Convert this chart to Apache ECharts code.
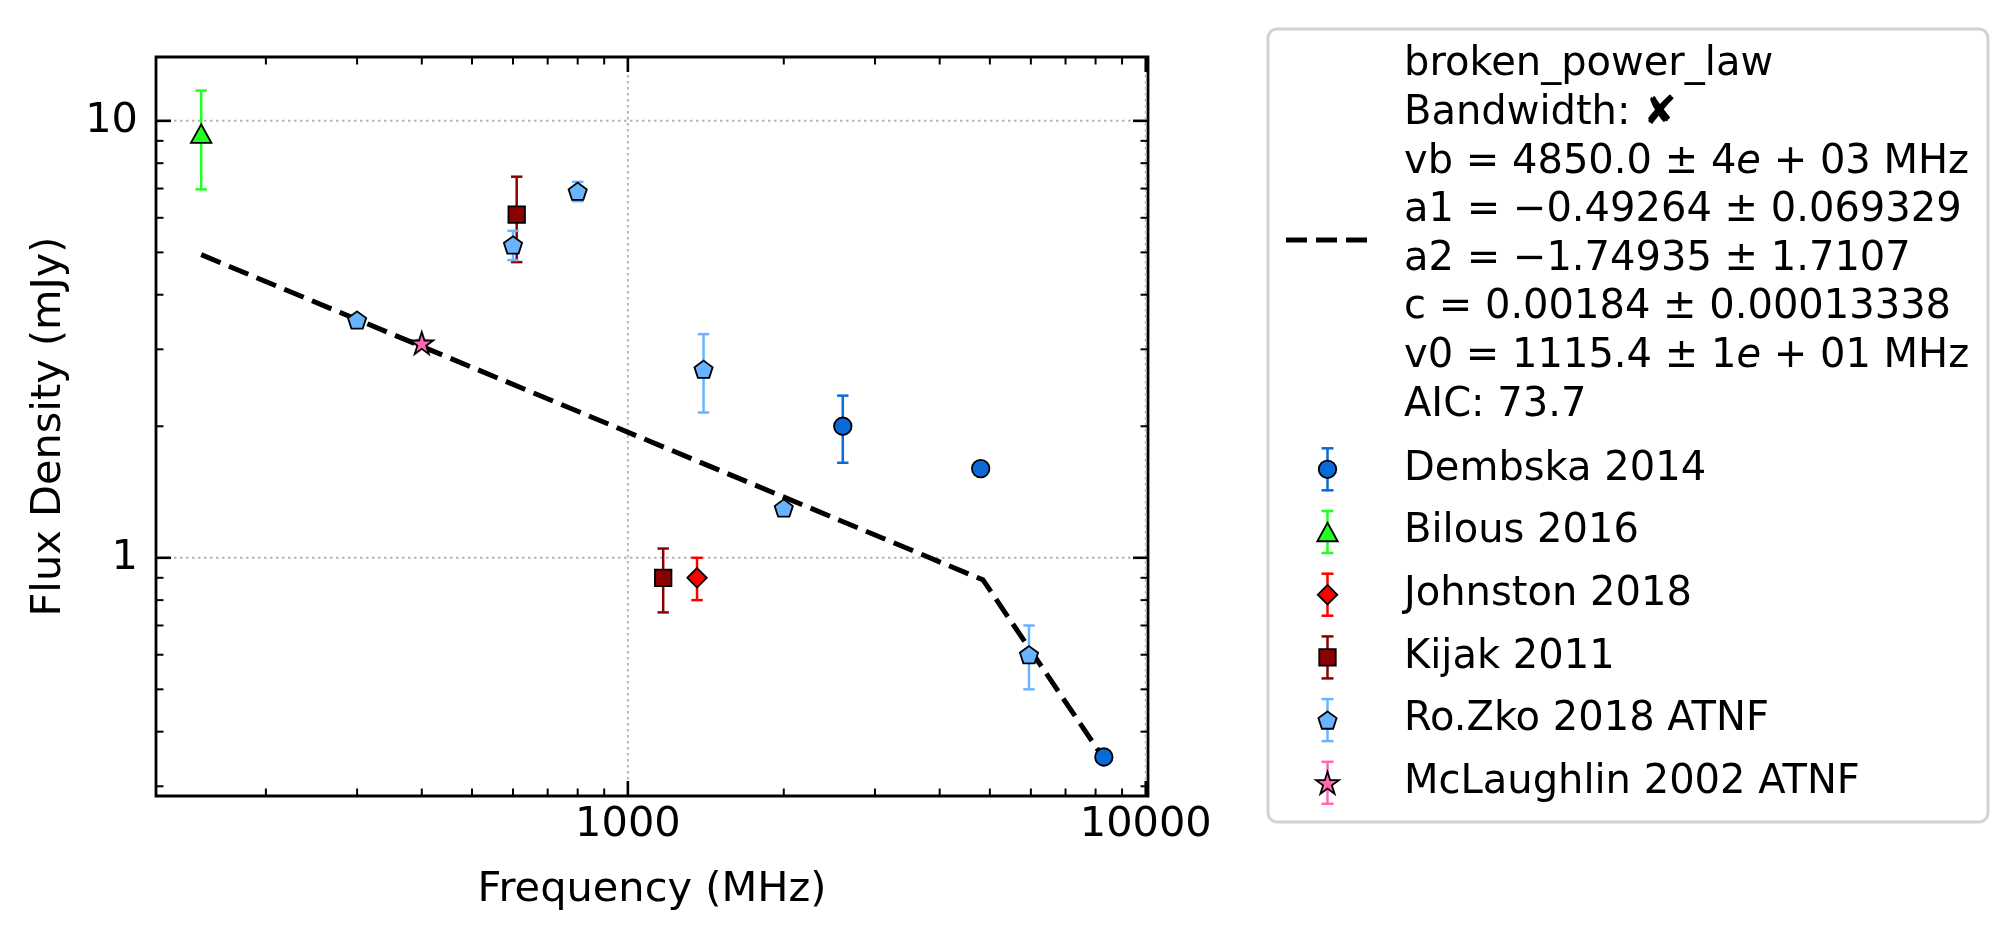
<!DOCTYPE html>
<html>
<head>
<meta charset="utf-8">
<title>Flux density spectrum</title>
<script src="https://cdn.jsdelivr.net/npm/echarts@6/dist/echarts.min.js"></script>
<style>
  html, body { margin: 0; padding: 0; background: #fff; }
  #chart { width: 2016px; height: 941px; }
</style>
</head>
<body>
<div id="chart"></div>
<script>
var dembskaFreq = [2600, 4800, 8300];
var dembskaFlux = [2.0, 1.6, 0.35];
var dembskaErr  = [0.35, 0.04, 0.01];

var bilousFreq = [150];
var bilousFlux = [9.35];
var bilousErr  = [2.38];

var johnstonFreq = [1360];
var johnstonFlux = [0.9];
var johnstonErr  = [0.1];

var kijakFreq = [610, 1170];
var kijakFlux = [6.1, 0.9];
var kijakErr  = [1.35, 0.15];

var rozkoFreq = [300, 600, 800, 1400, 2000, 5950];
var rozkoFlux = [3.5, 5.2, 6.9, 2.7, 1.3, 0.6];
var rozkoErr  = [0.05, 0.4, 0.35, 0.55, 0.03, 0.1];

var mclFreq = [400];
var mclFlux = [3.1];
var mclErr  = [0.05];

// dashed fit curve (start, break, end)
var fitFreq = [150, 4850, 8300];
var fitFlux = [4.94, 0.89, 0.347];

// axis ticks (log axes)
var xMajorTicks = [1000, 10000];
var xMinorTicks = [200, 300, 400, 500, 600, 700, 800, 900, 2000, 3000, 4000, 5000, 6000, 7000, 8000, 9000];
var yMajorTicks = [1, 10];
var yMinorTicks = [0.3, 0.4, 0.5, 0.6, 0.7, 0.8, 0.9, 2, 3, 4, 5, 6, 7, 8, 9];

// legend text of the fit
var fitLabel = [
  'broken_power_law',
  'Bandwidth: \u2718',
  'vb = 4850.0 \u00b1 4{i|e} + 03 MHz',
  'a1 = \u22120.49264 \u00b1 0.069329',
  'a2 = \u22121.74935 \u00b1 1.7107',
  'c = 0.00184 \u00b1 0.00013338',
  'v0 = 1115.4 \u00b1 1{i|e} + 01 MHz',
  'AIC: 73.7'
];

var FONT = 'DejaVu Sans';
var FS = 40;      // legend text
var AXFS = 41.5;  // tick labels and axis titles

// marker outlines (unit polygons); circle uses the built-in symbol
var shapePoints = {
  triangle: [[0, -1], [1, 1], [-1, 1]],
  diamond: [[0, -1], [1, 0], [0, 1], [-1, 0]],
  square: [[-1, -1], [1, -1], [1, 1], [-1, 1]],
  pentagon: [[0, -1], [0.951, -0.309], [0.588, 0.809], [-0.588, 0.809], [-0.951, -0.309]],
  star: [[0, -1], [0.2245, -0.309], [0.951, -0.309], [0.3633, 0.118], [0.588, 0.809], [0, 0.382],
         [-0.588, 0.809], [-0.3633, 0.118], [-0.951, -0.309], [-0.2245, -0.309]]
};

function symbolOf(shape) {
  if (shape === 'circle') return 'circle';
  var p = shapePoints[shape];
  return 'path://' + p.map(function (q, i) { return (i ? 'L' : 'M') + q[0] + ',' + q[1]; }).join(' ') + ' Z';
}

// fit a unit polygon into a w x h box centred at cx, cy (for the legend)
function fitPoints(shape, cx, cy, w, h) {
  var p = shapePoints[shape];
  var xs = p.map(function (q) { return q[0]; }), ys = p.map(function (q) { return q[1]; });
  var x0 = Math.min.apply(null, xs), x1 = Math.max.apply(null, xs);
  var y0 = Math.min.apply(null, ys), y1 = Math.max.apply(null, ys);
  return p.map(function (q) {
    return [cx + ((q[0] - x0) / (x1 - x0) - 0.5) * w, cy + ((q[1] - y0) / (y1 - y0) - 0.5) * h];
  });
}

var sources = [
  { name: 'Dembska 2014', freq: dembskaFreq, flux: dembskaFlux, err: dembskaErr, color: '#0a6ad8', shape: 'circle', size: [17.5, 17.5] },
  { name: 'Bilous 2016', freq: bilousFreq, flux: bilousFlux, err: bilousErr, color: '#22ff22', shape: 'triangle', size: [20.5, 18.5] },
  { name: 'Johnston 2018', freq: johnstonFreq, flux: johnstonFlux, err: johnstonErr, color: '#ff0000', shape: 'diamond', size: [19.5, 19.5] },
  { name: 'Kijak 2011', freq: kijakFreq, flux: kijakFlux, err: kijakErr, color: '#8b0000', shape: 'square', size: [16.5, 16.5] },
  { name: 'Ro.Zko 2018 ATNF', freq: rozkoFreq, flux: rozkoFlux, err: rozkoErr, color: '#6ab4ff', shape: 'pentagon', size: [18.2, 17.3] },
  { name: 'McLaughlin 2002 ATNF', freq: mclFreq, flux: mclFlux, err: mclErr, color: '#ff69b4', shape: 'star', size: [23, 22] }
];

var gridStyle = { stroke: '#b4b4b4', lineWidth: 2, lineDash: [2.5, 3.5] };

function textStyle(txt, x, y, align, valign, size) {
  return {
    text: txt, x: x, y: y, fill: '#000', fontSize: size || FS, fontFamily: FONT,
    align: align, verticalAlign: valign
  };
}

// inward ticks on bottom + top, grid line and label for majors
function renderXTick(params, api) {
  var cs = params.coordSys;
  var v = api.value(0);
  var major = api.value(2) === 1;
  var x = api.coord([v, 1])[0];
  var top = cs.y, bottom = cs.y + cs.height;
  var len = major ? 15 : 7.5;
  var ts = { stroke: '#000', lineWidth: major ? 2.6 : 2 };
  var kids = [];
  if (major) {
    kids.push({ type: 'line', shape: { x1: x, y1: top, x2: x, y2: bottom }, style: gridStyle });
    kids.push({ type: 'text', style: textStyle(String(v), x, bottom + 8, 'center', 'top', AXFS) });
  }
  kids.push({ type: 'line', shape: { x1: x, y1: bottom, x2: x, y2: bottom - len }, style: ts });
  kids.push({ type: 'line', shape: { x1: x, y1: top, x2: x, y2: top + len }, style: ts });
  return { type: 'group', children: kids };
}

function renderYTick(params, api) {
  var cs = params.coordSys;
  var v = api.value(1);
  var major = api.value(2) === 1;
  var y = api.coord([1000, v])[1];
  var left = cs.x, right = cs.x + cs.width;
  var len = major ? 15 : 7.5;
  var ts = { stroke: '#000', lineWidth: major ? 2.6 : 2 };
  var kids = [];
  if (major) {
    kids.push({ type: 'line', shape: { x1: left, y1: y, x2: right, y2: y }, style: gridStyle });
    kids.push({ type: 'text', style: textStyle(String(v), left - 18, y, 'right', 'middle', AXFS) });
  }
  kids.push({ type: 'line', shape: { x1: left, y1: y, x2: left + len, y2: y }, style: ts });
  kids.push({ type: 'line', shape: { x1: right, y1: y, x2: right - len, y2: y }, style: ts });
  return { type: 'group', children: kids };
}

function renderErrorBar(params, api) {
  var x = api.value(0), y = api.value(1), e = api.value(2);
  var hi = api.coord([x, y + e]);
  var lo = api.coord([x, y - e]);
  var cap = 5.7;
  var st = { stroke: api.visual('color'), lineWidth: 2.5 };
  return {
    type: 'group',
    children: [
      { type: 'line', shape: { x1: hi[0], y1: hi[1], x2: lo[0], y2: lo[1] }, style: st },
      { type: 'line', shape: { x1: hi[0] - cap, y1: hi[1], x2: hi[0] + cap, y2: hi[1] }, style: st },
      { type: 'line', shape: { x1: lo[0] - cap, y1: lo[1], x2: lo[0] + cap, y2: lo[1] }, style: st }
    ]
  };
}

var xTickData = xMajorTicks.map(function (v) { return [v, 1, 1]; })
  .concat(xMinorTicks.map(function (v) { return [v, 1, 0]; }));
var yTickData = yMajorTicks.map(function (v) { return [1000, v, 1]; })
  .concat(yMinorTicks.map(function (v) { return [1000, v, 0]; }));

var series = [
  { type: 'custom', name: 'xticks', silent: true, z: 1, renderItem: renderXTick, data: xTickData, encode: { x: 0, y: 1 } },
  { type: 'custom', name: 'yticks', silent: true, z: 1, renderItem: renderYTick, data: yTickData, encode: { x: 0, y: 1 } },
  {
    type: 'line', name: 'broken_power_law', z: 3, silent: true,
    data: fitFreq.map(function (f, i) { return [f, fitFlux[i]]; }),
    showSymbol: false, symbol: 'none',
    lineStyle: { color: '#000', width: 5, type: [21, 9], cap: 'butt', join: 'round' }
  }
];

sources.forEach(function (s) {
  var pts = s.freq.map(function (f, i) { return [f, s.flux[i], s.err[i]]; });
  series.push({
    type: 'custom', name: s.name + ' err', z: 4, silent: true,
    itemStyle: { color: s.color },
    renderItem: renderErrorBar, data: pts, encode: { x: 0, y: 1 }
  });
  series.push({
    type: 'scatter', name: s.name, z: 5, silent: true,
    data: pts.map(function (p) { return [p[0], p[1]]; }),
    symbol: symbolOf(s.shape), symbolSize: s.size,
    itemStyle: { color: s.color, borderColor: '#000', borderWidth: 1.8, opacity: 1 }
  });
});

// ---- legend box (drawn by hand, matplotlib style) ----
var legendEls = [
  { type: 'rect', shape: { x: 1268, y: 29, width: 720, height: 793, r: 9 }, style: { fill: '#fff', stroke: '#d2d2d2', lineWidth: 3 } },
  { type: 'line', shape: { x1: 1286, y1: 240, x2: 1367, y2: 240 }, style: { stroke: '#000', lineWidth: 5, lineDash: [21, 9] } }
];
fitLabel.forEach(function (line, i) {
  var st = textStyle(line, 1404, 65 + i * 48.6, 'left', 'middle');
  st.rich = { i: { fontStyle: 'italic', fontSize: FS, fontFamily: FONT, fill: '#000' } };
  legendEls.push({ type: 'text', style: st });
});
sources.forEach(function (s, i) {
  var cy = 469.3 + i * 62.7, cx = 1327.5;
  var st = { stroke: s.color, lineWidth: 2.5 };
  var mark = { fill: s.color, stroke: '#000', lineWidth: 1.8 };
  legendEls.push({ type: 'line', shape: { x1: cx, y1: cy - 21, x2: cx, y2: cy + 21 }, style: st });
  legendEls.push({ type: 'line', shape: { x1: cx - 6, y1: cy - 21, x2: cx + 6, y2: cy - 21 }, style: st });
  legendEls.push({ type: 'line', shape: { x1: cx - 6, y1: cy + 21, x2: cx + 6, y2: cy + 21 }, style: st });
  if (s.shape === 'circle') {
    legendEls.push({ type: 'circle', shape: { cx: cx, cy: cy, r: s.size[0] / 2 }, style: mark });
  } else {
    legendEls.push({ type: 'polygon', shape: { points: fitPoints(s.shape, cx, cy, s.size[0], s.size[1]) }, style: mark });
  }
  legendEls.push({ type: 'text', style: textStyle(s.name, 1404, cy, 'left', 'middle') });
});

var chart = echarts.init(document.getElementById('chart'));
chart.setOption({
  animation: false,
  backgroundColor: '#fff',
  grid: { left: 156, top: 57, width: 992, height: 739, show: true, borderColor: '#000', borderWidth: 2.8, backgroundColor: 'transparent' },
  xAxis: {
    type: 'log', logBase: 10, min: 122.7, max: 10100,
    name: 'Frequency (MHz)', nameLocation: 'middle', nameGap: 73,
    nameTextStyle: { fontSize: AXFS, fontFamily: FONT, color: '#000' },
    axisLine: { show: false }, axisTick: { show: false }, axisLabel: { show: false }, splitLine: { show: false }
  },
  yAxis: {
    type: 'log', logBase: 10, min: 0.285, max: 14.0,
    name: 'Flux Density (mJy)', nameLocation: 'middle', nameGap: 86,
    nameTextStyle: { fontSize: AXFS, fontFamily: FONT, color: '#000' },
    axisLine: { show: false }, axisTick: { show: false }, axisLabel: { show: false }, splitLine: { show: false }
  },
  graphic: { elements: legendEls },
  series: series
});
</script>
</body>
</html>
